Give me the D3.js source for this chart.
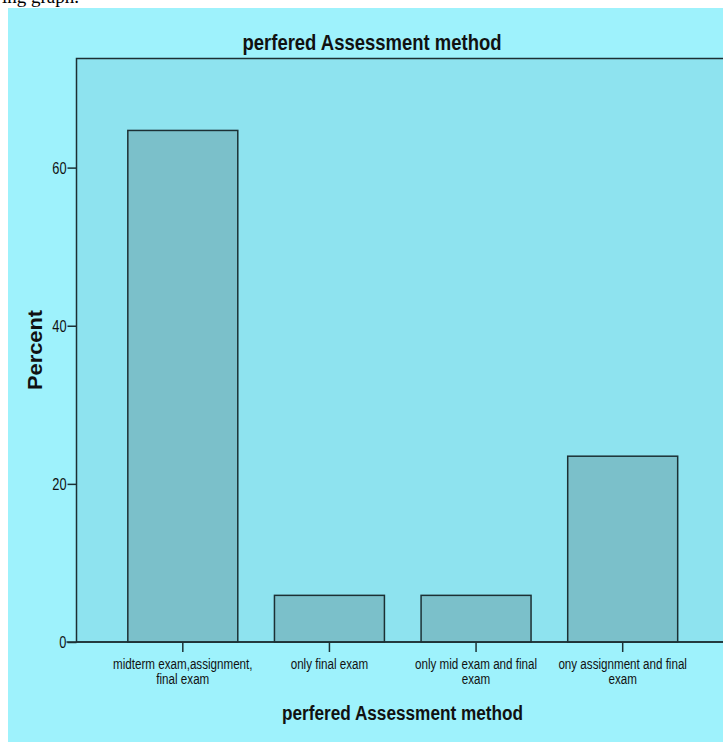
<!DOCTYPE html>
<html>
<head>
	<meta charset="utf-8">
	<title>perfered Assessment method</title>
	<script src="https://d3js.org/d3.v7.min.js"></script>
	<style>
		body { margin: 0; background: #fff; }
	</style>
</head>
<body>
	<div class="chart"></div>

	<script type="text/javascript">
		// values
		const categories = [
			'midterm exam,assignment,|final exam',
			'only final exam',
			'only mid exam and final|exam',
			'ony assignment and final|exam'
		]
		const percents = [64.7, 5.9, 5.9, 23.5]
		const yTicks = [0, 20, 40, 60]

		const width = 723
		const height = 743
		const plot = { left: 76.5, top: 58.5, right: 729, bottom: 642 }

		const svg = d3.select('.chart').append('svg')
			.attr('width', width)
			.attr('height', height)

		// scrap of the document text above the figure
		svg.append('text')
			.attr('x', 79)
			.attr('y', 3)
			.attr('text-anchor', 'end')
			.attr('font-family', 'Liberation Serif')
			.attr('font-size', 19)
			.attr('fill', '#000')
			.text('wing graph.')

		// outer background
		svg.append('rect')
			.attr('x', 8).attr('y', 8)
			.attr('width', width - 8).attr('height', 734)
			.attr('fill', '#9ef2fc')

		// plot area
		svg.append('rect')
			.attr('x', plot.left).attr('y', plot.top)
			.attr('width', width - plot.left + 10)
			.attr('height', plot.bottom - plot.top)
			.attr('fill', '#8ee3ef')
			.attr('stroke', '#1c3034')
			.attr('stroke-width', 1.5)

		const xScale = d3.scaleBand()
			.domain(categories)
			.range([plot.left, plot.right])
			.paddingInner(0.25)
			.paddingOuter(0.35)

		const yScale = d3.scaleLinear()
			.domain([0, 73.8])
			.range([plot.bottom, plot.top])

		// bars
		svg.append('g')
			.selectAll('rect')
			.data(percents)
			.join('rect')
			.attr('x', (d, i) => xScale(categories[i]))
			.attr('y', d => yScale(d))
			.attr('width', xScale.bandwidth())
			.attr('height', d => yScale(0) - yScale(d))
			.attr('fill', '#7bc0ca')
			.attr('stroke', '#1c3034')
			.attr('stroke-width', 1.5)

		// squeeze a text element horizontally, like the narrow font in the original
		function squeeze(sel, k) {
			sel.each(function() {
				const w = this.getComputedTextLength()
				d3.select(this)
					.attr('textLength', w * k)
					.attr('lengthAdjust', 'spacingAndGlyphs')
			})
		}

		// y axis
		const yAxis = d3.axisLeft(yScale)
			.tickValues(yTicks)
			.tickSize(9)
			.tickPadding(1)
			.tickFormat(d3.format('d'))

		const gy = svg.append('g')
			.attr('transform', `translate(${plot.left}, 0)`)
			.call(yAxis)
		gy.select('.domain').remove()
		gy.selectAll('line').attr('stroke', '#1c3034').attr('stroke-width', 1.5)
		gy.selectAll('text')
			.attr('font-family', 'Liberation Sans')
			.attr('font-size', 16)
			.attr('fill', '#111')
			.attr('dy', '0.36em')
			.call(squeeze, 0.8)

		// x axis
		const xAxis = d3.axisBottom(xScale)
			.tickSize(10)
			.tickFormat('')

		const gx = svg.append('g')
			.attr('transform', `translate(0, ${plot.bottom})`)
			.call(xAxis)
		gx.select('.domain')
			.attr('d', `M${plot.left - 10},0H${width + 10}`)
			.attr('stroke', '#1c3034')
			.attr('stroke-width', 1.5)
		gx.selectAll('line').attr('stroke', '#1c3034').attr('stroke-width', 1.5)

		const labels = svg.append('g')
			.attr('font-family', 'Liberation Sans')
			.attr('font-size', 14)
			.attr('fill', '#111')
			.attr('text-anchor', 'middle')

		categories.forEach((c, i) => {
			const cx = xScale(c) + xScale.bandwidth() / 2
			c.split('|').forEach((line, j) => {
				labels.append('text')
					.attr('x', cx)
					.attr('y', 669 + j * 15)
					.text(line)
					.call(squeeze, 0.83)
			})
		})

		// titles
		svg.append('text')
			.attr('x', 372)
			.attr('y', 50)
			.attr('text-anchor', 'middle')
			.attr('font-family', 'Liberation Sans')
			.attr('font-weight', 'bold')
			.attr('font-size', 22)
			.attr('fill', '#111')
			.attr('textLength', 259)
			.attr('lengthAdjust', 'spacingAndGlyphs')
			.text('perfered Assessment method')

		svg.append('text')
			.attr('x', 402.5)
			.attr('y', 720)
			.attr('text-anchor', 'middle')
			.attr('font-family', 'Liberation Sans')
			.attr('font-weight', 'bold')
			.attr('font-size', 20)
			.attr('fill', '#111')
			.attr('textLength', 241)
			.attr('lengthAdjust', 'spacingAndGlyphs')
			.text('perfered Assessment method')

		svg.append('text')
			.attr('transform', 'translate(42, 350) rotate(-90)')
			.attr('text-anchor', 'middle')
			.attr('font-family', 'Liberation Sans')
			.attr('font-weight', 'bold')
			.attr('font-size', 20)
			.attr('fill', '#111')
			.attr('textLength', 80)
			.attr('lengthAdjust', 'spacingAndGlyphs')
			.text('Percent')
	</script>
</body>
</html>
